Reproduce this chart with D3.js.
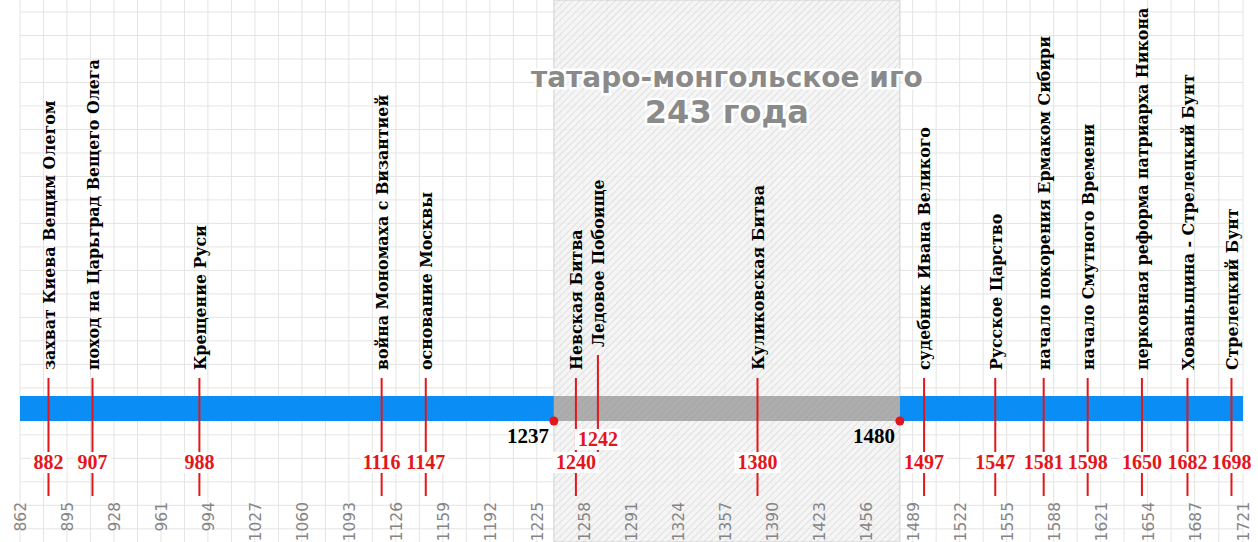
<!DOCTYPE html>
<html>
<head>
<meta charset="utf-8">
<script src="https://cdn.jsdelivr.net/npm/d3@7"></script>
<style>
  body { margin: 0; background: #fff; }
  svg { display: block; }
</style>
</head>
<body>
<script>
// events on the timeline
const years = [882, 907, 988, 1116, 1147, 1240, 1242, 1380, 1497, 1547, 1581, 1598, 1650, 1682, 1698];
const events = [
  'захват Киева Вещим Олегом',
  'поход на Царьград Вещего Олега',
  'Крещение Руси',
  'война Мономаха с Византией',
  'основание Москвы',
  'Невская Битва',
  'Ледовое Побоище',
  'Куликовская Битва',
  'судебник Ивана Великого',
  'Русское Царство',
  'начало покорения Ермаком Сибири',
  'начало Смутного Времени',
  'церковная реформа патриарха Никона',
  'Хованьщина - Стрелецкий Бунт',
  'Стрелецкий Бунт',
];

// bar periods
const periodStart = [862, 1237, 1480];
const periodEnd = [1237, 1480, 1721];
const periodKind = ['free', 'yoke', 'free'];

const yokeStart = 1237;
const yokeEnd = 1480;
const yokeTitle = 'татаро-монгольское иго';
const yokeLength = '243 года';

const axisTicks = [862, 895, 928, 961, 994, 1027, 1060, 1093, 1126, 1159, 1192, 1225, 1258,
  1291, 1324, 1357, 1390, 1423, 1456, 1489, 1522, 1555, 1588, 1621, 1654, 1687, 1721];

const w = 1258;
const h = 542;
const barTop = 396;
const barH = 25;
const textBottom = 370;
const lineBottom = 496;
const yearBase = 469;
const staggerShift = 23;
const red = '#e3161b';
const labelFont = '"DejaVu Serif", serif';
const yearFont = '"Liberation Serif", "DejaVu Serif", serif';

const x = d3.scaleLinear()
  .domain([axisTicks[0], axisTicks[axisTicks.length - 1]])
  .range([20, 1243]);

// keep neighbouring events readable: push right, stagger near-duplicates
let prev = null;
const placed = years.map((yr, i) => {
  let px = x(yr);
  let stagger = false;
  const bound = [yokeStart, yokeEnd].find(b => yr > b && (!prev || prev.year < b));
  if (bound !== undefined) px = Math.max(px, x(bound) + 22);
  if (prev) {
    if (yr - prev.year <= 3) {
      px = prev.x + 22;
      stagger = true;
    } else {
      px = Math.max(px, prev.x + 44);
    }
  }
  prev = { year: yr, x: px };
  return { year: yr, label: events[i], x: px, stagger };
});

const svg = d3.select('body')
  .append('svg')
  .attr('width', w)
  .attr('height', h);

const defs = svg.append('defs');

const hatch = defs.append('pattern')
  .attr('id', 'hatch')
  .attr('patternUnits', 'userSpaceOnUse')
  .attr('width', 5)
  .attr('height', 5)
  .attr('patternTransform', 'rotate(45)');
hatch.append('rect').attr('width', 5).attr('height', 5).attr('fill', '#f3f3f3').attr('fill-opacity', 0.8);
hatch.append('line').attr('x1', 0).attr('y1', 0).attr('x2', 0).attr('y2', 5)
  .attr('stroke', '#d6d6d6').attr('stroke-width', 1.4);

const hatchDark = defs.append('pattern')
  .attr('id', 'hatchDark')
  .attr('patternUnits', 'userSpaceOnUse')
  .attr('width', 5)
  .attr('height', 5)
  .attr('patternTransform', 'rotate(45)');
hatchDark.append('rect').attr('width', 5).attr('height', 5).attr('fill', '#adadad');
hatchDark.append('line').attr('x1', 0).attr('y1', 0).attr('x2', 0).attr('y2', 5)
  .attr('stroke', '#a3a3a3').attr('stroke-width', 1.4);

// grid
const gridX = axisTicks.concat(d3.pairs(axisTicks).map(([a, b]) => (a + b) / 2));
const cell = (x(axisTicks[1]) - x(axisTicks[0])) / 2;
const grid = svg.append('g').attr('stroke', '#e4e4e4').attr('stroke-width', 1);
grid.selectAll('line.v')
  .data(gridX)
  .enter()
  .append('line')
  .attr('class', 'v')
  .attr('x1', d => x(d)).attr('x2', d => x(d))
  .attr('y1', 0).attr('y2', h);
grid.selectAll('line.h')
  .data(d3.range(12, h, cell))
  .enter()
  .append('line')
  .attr('class', 'h')
  .attr('x1', x.range()[0]).attr('x2', x.range()[1])
  .attr('y1', d => d).attr('y2', d => d);

// yoke region
svg.append('rect')
  .attr('x', x(yokeStart))
  .attr('y', 0)
  .attr('width', x(yokeEnd) - x(yokeStart))
  .attr('height', h)
  .attr('fill', 'url(#hatch)')
  .attr('stroke', '#cfcfcf')
  .attr('stroke-width', 1);

// bar
svg.selectAll('rect.period')
  .data(periodStart)
  .enter()
  .append('rect')
  .attr('class', 'period')
  .attr('x', d => x(d))
  .attr('y', barTop)
  .attr('width', (d, i) => x(periodEnd[i]) - x(d))
  .attr('height', barH)
  .attr('fill', (d, i) => (periodKind[i] === 'yoke' ? 'url(#hatchDark)' : '#0a8ef5'));

// event lines
svg.selectAll('line.event')
  .data(placed)
  .enter()
  .append('line')
  .attr('class', 'event')
  .attr('x1', d => d.x).attr('x2', d => d.x)
  .attr('y1', d => textBottom + 8 - (d.stagger ? staggerShift : 0))
  .attr('y2', d => (d.stagger ? yearBase - 17 : lineBottom))
  .attr('stroke', red)
  .attr('stroke-width', 2);

// year labels with white backing
const yearG = svg.selectAll('g.year')
  .data(placed)
  .enter()
  .append('g')
  .attr('class', 'year');
yearG.append('text')
  .attr('x', d => d.x)
  .attr('y', d => yearBase - (d.stagger ? staggerShift : 0))
  .attr('text-anchor', 'middle')
  .attr('font-family', yearFont)
  .attr('font-weight', 'bold')
  .attr('font-size', 20)
  .attr('fill', red)
  .text(d => d.year);
yearG.each(function () {
  const g = d3.select(this);
  const b = g.select('text').node().getBBox();
  g.insert('rect', 'text')
    .attr('x', b.x - 3)
    .attr('y', b.y + 1)
    .attr('width', b.width + 6)
    .attr('height', b.height - 1)
    .attr('fill', '#fff');
});

// yoke boundaries
svg.selectAll('circle.bound')
  .data([yokeStart, yokeEnd])
  .enter()
  .append('circle')
  .attr('class', 'bound')
  .attr('cx', d => x(d))
  .attr('cy', barTop + barH)
  .attr('r', 4.5)
  .attr('fill', red);
svg.selectAll('text.bound')
  .data([yokeStart, yokeEnd])
  .enter()
  .append('text')
  .attr('class', 'bound')
  .attr('x', d => x(d) - 5)
  .attr('y', 443)
  .attr('text-anchor', 'end')
  .attr('font-family', yearFont)
  .attr('font-weight', 'bold')
  .attr('font-size', 21)
  .attr('fill', '#000')
  .text(d => d);

// event names
svg.selectAll('text.event')
  .data(placed)
  .enter()
  .append('text')
  .attr('class', 'event')
  .attr('transform', d => `translate(${d.x},${textBottom - (d.stagger ? staggerShift : 0)}) rotate(-90)`)
  .attr('dy', '0.4em')
  .attr('font-family', labelFont)
  .attr('font-weight', 'bold')
  .attr('font-size', 15.8)
  .attr('fill', '#000')
  .text(d => d.label);

// yoke title
const cx = (x(yokeStart) + x(yokeEnd)) / 2;
svg.append('text')
  .attr('x', cx)
  .attr('y', 87)
  .attr('text-anchor', 'middle')
  .attr('font-family', '"DejaVu Sans", sans-serif')
  .attr('font-weight', 'bold')
  .attr('font-size', 28)
  .attr('fill', '#8a8a8a')
  .attr('stroke', '#fff')
  .attr('stroke-width', 5)
  .attr('paint-order', 'stroke')
  .text(yokeTitle);
svg.append('text')
  .attr('x', cx)
  .attr('y', 123)
  .attr('text-anchor', 'middle')
  .attr('font-family', '"DejaVu Sans", sans-serif')
  .attr('font-weight', 'bold')
  .attr('font-size', 32)
  .attr('fill', '#8a8a8a')
  .attr('stroke', '#fff')
  .attr('stroke-width', 5)
  .attr('paint-order', 'stroke')
  .text(yokeLength);

// year axis
const xAxis = d3.axisBottom(x)
  .tickValues(axisTicks)
  .tickFormat(d3.format('d'))
  .tickSize(0);

svg.append('g')
  .attr('transform', 'translate(0,502)')
  .call(xAxis)
  .call(g => g.select('.domain').remove())
  .attr('font-family', '"DejaVu Sans", sans-serif')
  .attr('font-size', 15.5)
  .selectAll('text')
  .attr('transform', 'rotate(-90)')
  .attr('text-anchor', 'end')
  .attr('x', 0)
  .attr('y', 0)
  .attr('dy', '0.35em')
  .attr('fill', '#858585');
</script>
</body>
</html>
